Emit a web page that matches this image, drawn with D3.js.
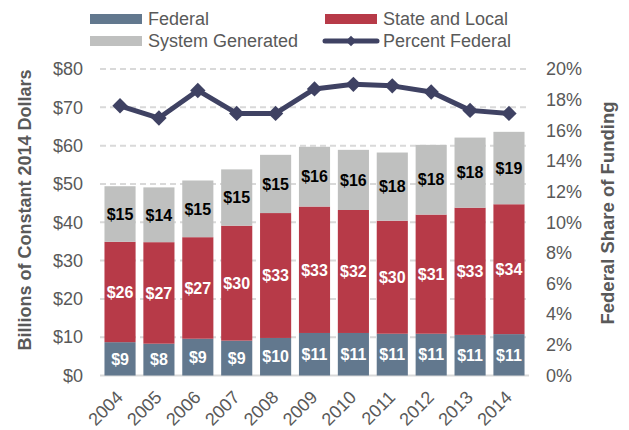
<!DOCTYPE html>
<html>
<head>
<meta charset="utf-8">
<script src="https://cdn.jsdelivr.net/npm/d3@7"></script>
<style>
  body { margin: 0; background: #fff; }
  svg text { font-family: "Liberation Sans", Arial, sans-serif; }
</style>
</head>
<body>
<div id="chart"></div>
<script>
const years = ["2004", "2005", "2006", "2007", "2008", "2009", "2010", "2011", "2012", "2013", "2014"];
const federal = [8.7, 8.3, 9.6, 9.1, 9.8, 11.1, 11.1, 10.9, 10.9, 10.6, 10.8];
const stateLocal = [26.2, 26.5, 26.5, 30.0, 32.6, 33.0, 32.1, 29.5, 31.1, 33.2, 33.9];
const systemGen = [14.5, 14.3, 14.8, 14.7, 15.2, 15.6, 15.7, 17.8, 18.2, 18.3, 18.9];
const fedLabels = ["$9", "$8", "$9", "$9", "$10", "$11", "$11", "$11", "$11", "$11", "$11"];
const stateLabels = ["$26", "$27", "$27", "$30", "$33", "$33", "$32", "$30", "$31", "$33", "$34"];
const sysLabels = ["$15", "$14", "$15", "$15", "$15", "$16", "$16", "$18", "$18", "$18", "$19"];
const pctFederal = [17.6, 16.8, 18.6, 17.1, 17.1, 18.7, 19.0, 18.9, 18.5, 17.3, 17.1];
const leftTicks = [0, 10, 20, 30, 40, 50, 60, 70, 80];
const rightTicks = [0, 2, 4, 6, 8, 10, 12, 14, 16, 18, 20];

const W = 629, H = 430;
const margin = { top: 69, right: 100, bottom: 54.5, left: 100 };
const width = W - margin.left - margin.right;
const height = H - margin.top - margin.bottom;

const colors = { fed: "#62788e", state: "#b73a48", sys: "#bfc0bf", line: "#3f4263" };
const gray = "#595959";

const svg = d3.select("#chart").append("svg")
  .attr("width", W).attr("height", H);
const g = svg.append("g").attr("transform", `translate(${margin.left},${margin.top})`);

const x = d3.scaleBand().domain(years).range([0, width]).paddingInner(0.2).paddingOuter(0.115);
const y = d3.scaleLinear().domain([0, 80]).range([height, 0]);
const y2 = d3.scaleLinear().domain([0, 20]).range([height, 0]);

// gridlines
g.selectAll("line.grid")
  .data(leftTicks)
  .join("line")
  .attr("class", "grid")
  .attr("x1", 0).attr("x2", width)
  .attr("y1", d => y(d)).attr("y2", d => y(d))
  .attr("stroke", "#d9d9d9")
  .attr("stroke-width", 2)
  .attr("stroke-dasharray", d => d === 0 ? null : "6,4");

// left axis
const yAxis = g.append("g")
  .call(d3.axisLeft(y).tickValues(leftTicks).tickSize(0).tickPadding(17).tickFormat(d => "$" + d));
yAxis.select(".domain").remove();
yAxis.selectAll("text").attr("fill", gray).style("font-size", "18px");

// right axis
const y2Axis = g.append("g").attr("transform", `translate(${width},0)`)
  .call(d3.axisRight(y2).tickValues(rightTicks).tickSize(0).tickPadding(17).tickFormat(d => d + "%"));
y2Axis.select(".domain").remove();
y2Axis.selectAll("text").attr("fill", gray).style("font-size", "18px");

// x axis, labels slanted at 45 degrees
const xAxis = g.append("g").attr("transform", `translate(0,${height})`)
  .call(d3.axisBottom(x).tickSize(0));
xAxis.select(".domain").remove();
xAxis.selectAll("text")
  .attr("fill", gray)
  .style("font-size", "18px")
  .attr("text-anchor", "end")
  .attr("x", 0).attr("y", 0).attr("dy", 0)
  .attr("transform", "translate(4,23) rotate(-45)");

// stacked bars
const rows = years.map((yr, i) => ({
  year: yr,
  segs: [
    { key: "fed", y0: 0, y1: federal[i], label: fedLabels[i], tc: "#fff" },
    { key: "state", y0: federal[i], y1: federal[i] + stateLocal[i], label: stateLabels[i], tc: "#fff" },
    { key: "sys", y0: federal[i] + stateLocal[i], y1: federal[i] + stateLocal[i] + systemGen[i], label: sysLabels[i], tc: "#000" }
  ]
}));

const barGroups = g.selectAll("g.bar")
  .data(rows)
  .join("g")
  .attr("class", "bar")
  .attr("transform", d => `translate(${x(d.year)},0)`);

barGroups.selectAll("rect")
  .data(d => d.segs)
  .join("rect")
  .attr("x", 0)
  .attr("y", d => y(d.y1))
  .attr("width", x.bandwidth())
  .attr("height", d => y(d.y0) - y(d.y1))
  .attr("fill", d => colors[d.key]);

barGroups.selectAll("text")
  .data(d => d.segs)
  .join("text")
  .attr("x", x.bandwidth() / 2)
  .attr("y", d => y((d.y0 + d.y1) / 2))
  .attr("dy", "0.36em")
  .attr("text-anchor", "middle")
  .attr("fill", d => d.tc)
  .style("font-size", "16px")
  .style("font-weight", "bold")
  .text(d => d.label);

// percent federal line
const cx = i => x(years[i]) + x.bandwidth() / 2;
const line = d3.line().x((d, i) => cx(i)).y(d => y2(d));
g.append("path")
  .datum(pctFederal)
  .attr("d", line)
  .attr("fill", "none")
  .attr("stroke", colors.line)
  .attr("stroke-width", 5)
  .attr("stroke-linejoin", "round");

const diamond = d3.symbol().type(d3.symbolDiamond2).size(150);
g.selectAll("path.marker")
  .data(pctFederal)
  .join("path")
  .attr("class", "marker")
  .attr("d", diamond)
  .attr("transform", (d, i) => `translate(${cx(i)},${y2(d)})`)
  .attr("fill", colors.line);

// axis titles
svg.append("text")
  .attr("text-anchor", "middle")
  .attr("transform", "translate(31,210) rotate(-90)")
  .attr("fill", gray)
  .style("font-size", "18px")
  .style("font-weight", "bold")
  .text("Billions of Constant 2014 Dollars");

svg.append("text")
  .attr("text-anchor", "middle")
  .attr("transform", "translate(614,213) rotate(-90)")
  .attr("fill", gray)
  .style("font-size", "18.5px")
  .style("font-weight", "bold")
  .text("Federal Share of Funding");

// legend
const legendItems = [
  { name: "Federal", type: "rect", color: colors.fed, lx: 90, ly: 19 },
  { name: "State and Local", type: "rect", color: colors.state, lx: 325, ly: 19 },
  { name: "System Generated", type: "rect", color: colors.sys, lx: 90, ly: 41 },
  { name: "Percent Federal", type: "line", color: colors.line, lx: 325, ly: 41 }
];
const legend = svg.append("g");
legendItems.forEach(it => {
  if (it.type === "rect") {
    legend.append("rect")
      .attr("x", it.lx).attr("y", it.ly - 5)
      .attr("width", 52).attr("height", 10)
      .attr("fill", it.color);
  } else {
    legend.append("line")
      .attr("x1", it.lx).attr("x2", it.lx + 52)
      .attr("y1", it.ly).attr("y2", it.ly)
      .attr("stroke", it.color).attr("stroke-width", 5)
      .attr("stroke-linecap", "round");
    legend.append("path")
      .attr("d", d3.symbol().type(d3.symbolDiamond2).size(70))
      .attr("transform", `translate(${it.lx + 26},${it.ly})`)
      .attr("fill", it.color);
  }
  legend.append("text")
    .attr("x", it.lx + 58).attr("y", it.ly)
    .attr("dy", "0.35em")
    .attr("fill", gray)
    .style("font-size", "18px")
    .text(it.name);
});
</script>
</body>
</html>
